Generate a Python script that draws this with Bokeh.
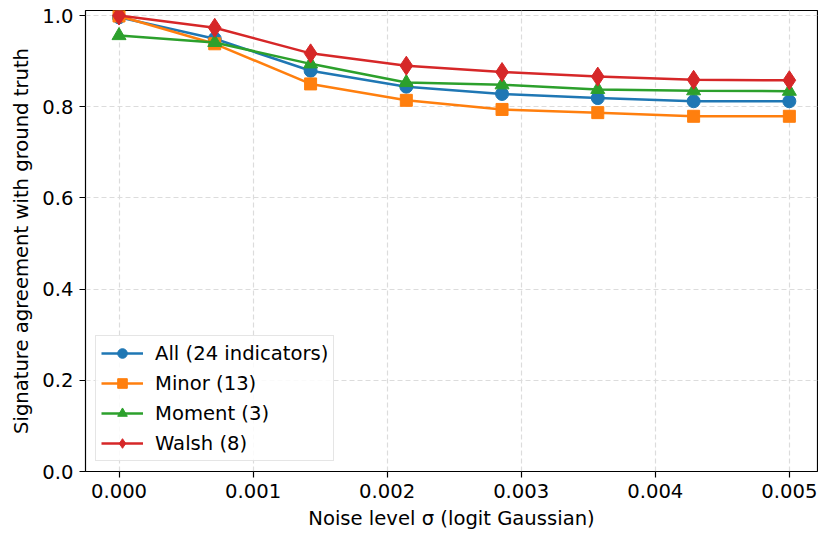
from bokeh.plotting import figure
from bokeh.models import FixedTicker, NumeralTickFormatter, Legend, LegendItem, Range1d
from bokeh.embed import file_html
from bokeh.resources import INLINE

noise = [0.0, 0.000714, 0.001429, 0.002143, 0.002857, 0.003571, 0.004286, 0.005]
all_vals = [0.996, 0.949, 0.879, 0.844, 0.828, 0.819, 0.812, 0.812]
minor_vals = [0.999, 0.938, 0.850, 0.814, 0.794, 0.787, 0.779, 0.779]
moment_vals = [0.956, 0.941, 0.894, 0.853, 0.848, 0.838, 0.835, 0.834]
walsh_vals = [1.0, 0.973, 0.917, 0.890, 0.876, 0.866, 0.859, 0.858]

series = [
    ("All (24 indicators)", all_vals, "#1f77b4", "circle", 13),
    ("Minor (13)", minor_vals, "#ff7f0e", "square", 12),
    ("Moment (3)", moment_vals, "#2ca02c", "triangle", 14),
    ("Walsh (8)", walsh_vals, "#d62728", "diamond", 19),
]

FONT = "DejaVu Sans"
FS = "19.6px"

p = figure(frame_width=732, frame_height=461, output_backend="svg", toolbar_location=None,
           x_range=Range1d(-0.00025, 0.00521), y_range=Range1d(0, 1.011),
           min_border_left=85, min_border_right=1, min_border_top=10, min_border_bottom=66)

p.outline_line_color = "black"
p.outline_line_width = 1.2

items = []
for name, vals, color, marker, size in series:
    r1 = p.line(noise, vals, line_color=color, line_width=2.5)
    r2 = p.scatter(noise, vals, marker=marker, size=size, fill_color=color, line_color=color)
    items.append(LegendItem(label=name, renderers=[r1, r2]))

legend = Legend(items=items, location="bottom_left")
legend.label_text_font = FONT
legend.label_text_font_size = FS
legend.label_text_color = "black"
legend.glyph_width = 42
legend.glyph_height = 24
legend.spacing = 6
legend.padding = 5
legend.margin = 10
legend.label_standoff = 12
legend.border_line_color = "#cccccc"
legend.border_line_width = 1
legend.background_fill_alpha = 0.85
p.add_layout(legend)

p.xaxis.ticker = FixedTicker(ticks=[0.0, 0.001, 0.002, 0.003, 0.004, 0.005])
p.xaxis.formatter = NumeralTickFormatter(format="0.000")
p.yaxis.ticker = FixedTicker(ticks=[0.0, 0.2, 0.4, 0.6, 0.8, 1.0])
p.yaxis.formatter = NumeralTickFormatter(format="0.0")

p.xaxis.axis_label = "Noise level σ (logit Gaussian)"
p.yaxis.axis_label = "Signature agreement with ground truth"
for ax in (p.xaxis, p.yaxis):
    ax.axis_label_text_font = FONT
    ax.axis_label_text_font_size = FS
    ax.axis_label_text_font_style = "normal"
    ax.axis_label_text_color = "black"
    ax.axis_label_standoff = 6
    ax.major_label_text_font = FONT
    ax.major_label_text_font_size = FS
    ax.major_label_text_color = "black"
    ax.major_label_standoff = 6
    ax.minor_tick_line_color = None
    ax.major_tick_out = 6
    ax.major_tick_in = 0
    ax.axis_line_color = None
    ax.major_tick_line_color = "black"
    ax.major_tick_line_width = 1.2

p.xgrid.grid_line_color = "#dcdcdc"
p.ygrid.grid_line_color = "#dcdcdc"
p.xgrid.grid_line_dash = "5 3"
p.ygrid.grid_line_dash = "5 3"
p.xgrid.grid_line_width = 1.2
p.ygrid.grid_line_width = 1.2

open("out.html", "w").write(file_html(p, INLINE))
